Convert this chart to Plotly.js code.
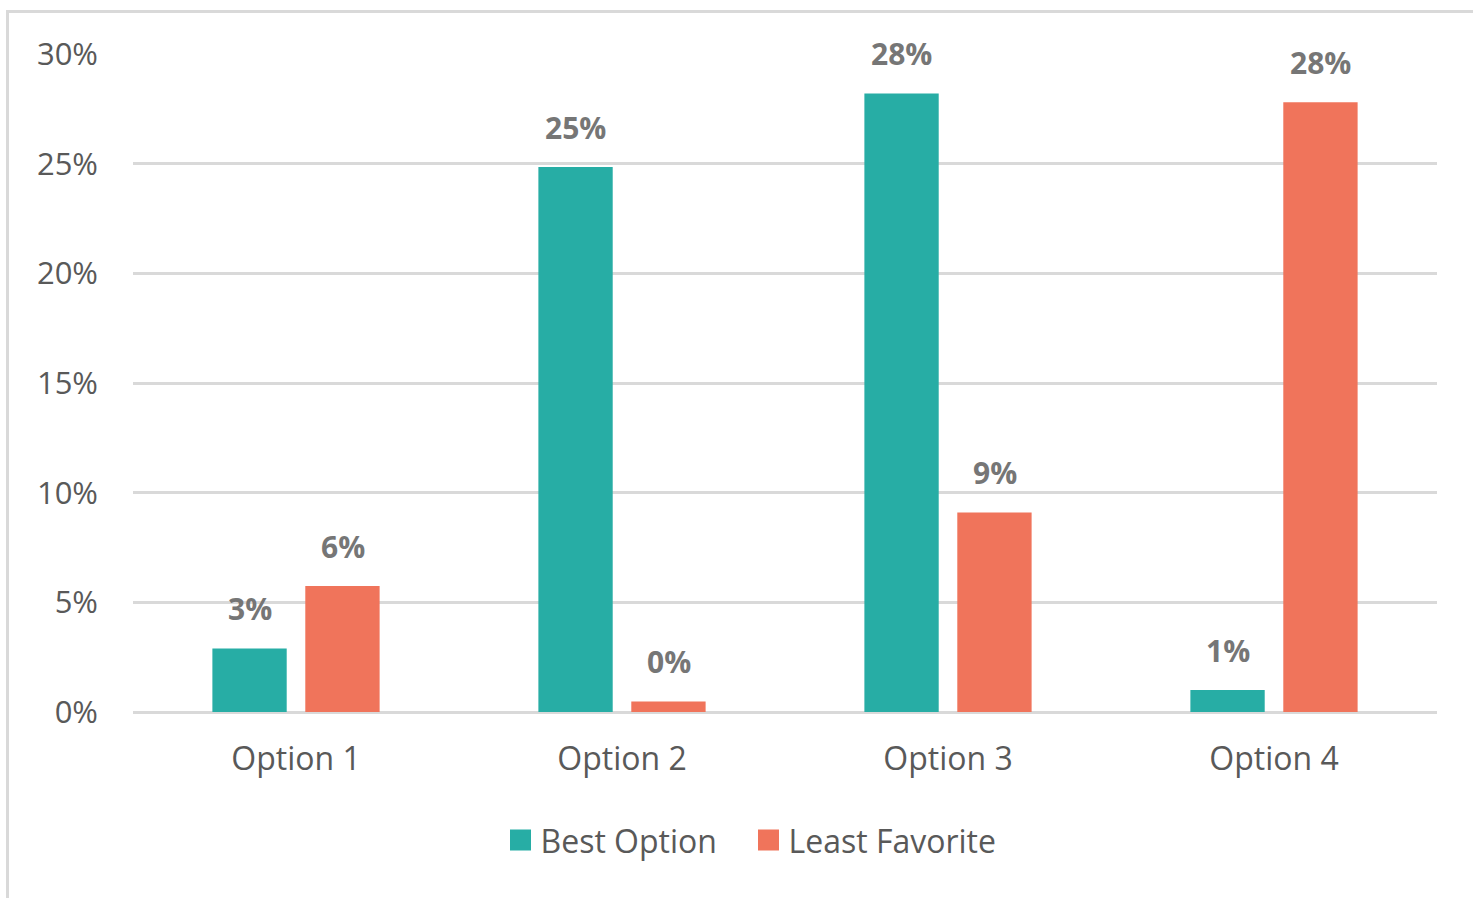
<!DOCTYPE html>
<html>
<head>
<meta charset="utf-8">
<script src="https://cdn.plot.ly/plotly-3.0.1.min.js"></script>
<style>
  html, body { margin: 0; padding: 0; background: #fff; overflow: hidden; }
  #frame { position: absolute; left: 6px; top: 10px; width: 1600px; height: 1000px;
           border-top: 3px solid #d9d9d9; border-left: 3px solid #d9d9d9; pointer-events: none; }
  #chart { position: absolute; left: 0; top: 0; width: 1473px; height: 898px; }
</style>
</head>
<body>
<div id="frame"></div>
<div id="chart"></div>
<script>
const categories = ["Option 1", "Option 2", "Option 3", "Option 4"];
const seriesNames = ["Best Option", "Least Favorite"];
const bestOption = [0.029, 0.2485, 0.282, 0.010];
const leastFavorite = [0.0575, 0.0048, 0.091, 0.278];
const yTickVals = [0, 0.05, 0.10, 0.15, 0.20, 0.25, 0.30];
const yTickText = ["0%", "5%", "10%", "15%", "20%", "25%", "30%"];
const colors = ["#27ADA5", "#F0745B"];

const FONT = "'Open Sans', sans-serif";
const labelFont = { family: FONT, size: 30, color: "#767676", weight: "bold" };

const seriesValues = [bestOption, leastFavorite];
const traces = [];
seriesValues.forEach((vals, i) => {
  traces.push({
    type: "bar", name: seriesNames[i], x: categories, y: vals,
    marker: { color: colors[i] }, showlegend: false, hoverinfo: "skip"
  });
});
// legend entries with larger square swatches
seriesValues.forEach((vals, i) => {
  traces.push({
    type: "scatter", mode: "markers", name: seriesNames[i], x: [null], y: [null],
    marker: { symbol: "square", size: 16, color: colors[i], line: { width: 5, color: colors[i] } },
    hoverinfo: "skip"
  });
});

// data labels above bars (offset like the reference)
const annotations = [];
const groupShift = [-46.5, 46.5];
seriesValues.forEach((vals, i) => {
  vals.forEach((v, j) => {
    annotations.push({
      x: categories[j], y: v, xref: "x", yref: "y",
      text: "<b>" + Math.round(v * 100) + "%</b>",
      showarrow: false, xshift: groupShift[i], yshift: 17, yanchor: "bottom",
      font: labelFont
    });
  });
});

const layout = {
  width: 1473, height: 898,
  paper_bgcolor: "rgba(0,0,0,0)", plot_bgcolor: "rgba(0,0,0,0)",
  margin: { l: 133, r: 36, t: 54, b: 186 },
  barmode: "group", bargap: 0.43, bargroupgap: 0.2,
  font: { family: FONT, color: "#595959" },
  xaxis: {
    showgrid: false, showline: false, zeroline: false, ticks: "",
    tickfont: { size: 32, color: "#595959" }, ticklabelstandoff: 25
  },
  yaxis: {
    range: [0, 0.30], tickvals: yTickVals, ticktext: yTickText,
    showgrid: true, gridcolor: "#d9d9d9", gridwidth: 3,
    zeroline: true, zerolinecolor: "#d9d9d9", zerolinewidth: 3,
    showline: false, ticks: "",
    tickfont: { size: 31, color: "#595959" }, ticklabelstandoff: 34
  },
  legend: {
    orientation: "h", x: 0.472, xanchor: "center", y: -0.195, yanchor: "middle",
    font: { size: 32, color: "#595959" }, itemwidth: 30, traceorder: "normal",
    entrywidth: 203
  },
  annotations: annotations,
  showlegend: true
};

Plotly.newPlot("chart", traces, layout, { displayModeBar: false, staticPlot: true });
</script>
</body>
</html>
